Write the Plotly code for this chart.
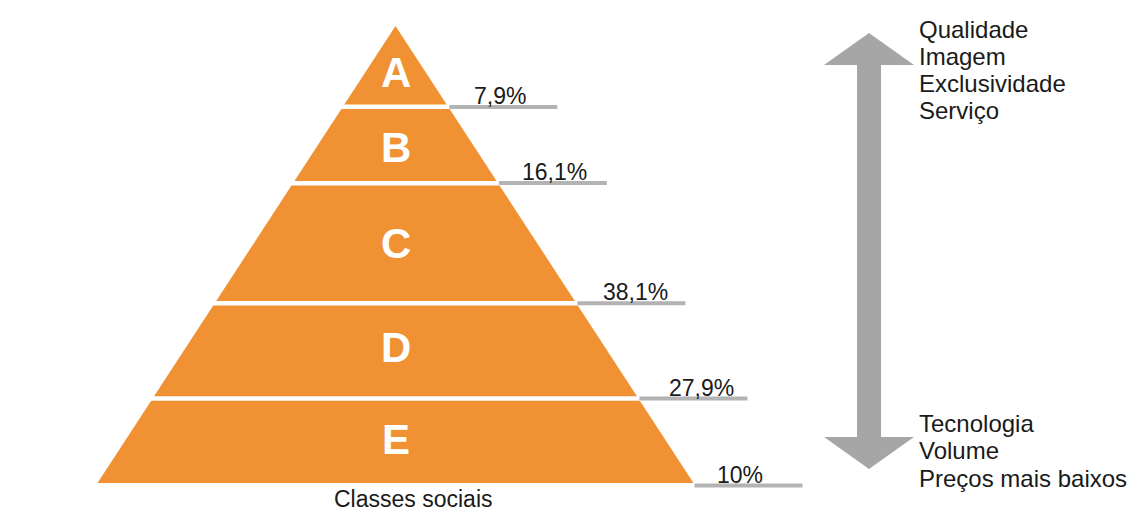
import plotly.graph_objects as go

# ---- data ----
classes = ["A", "B", "C", "D", "E"]
shares = [7.9, 16.1, 38.1, 27.9, 10]
top_attributes = ["Qualidade", "Imagem", "Exclusividade", "Serviço"]
bottom_attributes = ["Tecnologia", "Volume", "Preços mais baixos"]
axis_title = "Classes sociais"

# ---- layout geometry (pixel-like data coordinates) ----
W, H = 1135, 519
OFF = 8  # page body margin
apex_x, apex_y = 395.5, 26
base_y, base_half = 483, 298
band_tops = [26, 109, 185.5, 305.5, 400.7]
band_bottoms = [104.5, 181, 301, 396.3, 483]
gap_lines = [107, 183, 303.3, 398.5, 485.5]
letter_y = [72, 147, 243, 347, 439]
pct_xc = [500, 554, 635, 701, 740]
line_len = 108

ORANGE = "#F09133"
GRAY = "#B3B3B3"
ARROW = "#A6A6A6"
TEXT = "#1a1a1a"
FONT = "Liberation Sans, Arial, sans-serif"


def half_width(y):
    return (y - apex_y) / (base_y - apex_y) * base_half


def fmt(v):
    s = ("%g" % v).replace(".", ",")
    return s + "%"


fig = go.Figure()

# pyramid bands
for c, t, b in zip(classes, band_tops, band_bottoms):
    ht, hb = half_width(t), half_width(b)
    fig.add_trace(go.Scatter(
        x=[apex_x - ht, apex_x + ht, apex_x + hb, apex_x - hb, apex_x - ht],
        y=[t, t, b, b, t], fill="toself", fillcolor=ORANGE,
        line=dict(width=0, color=ORANGE), mode="lines", hoverinfo="skip", showlegend=False))

# gray leader lines
for yl in gap_lines:
    x0 = apex_x + half_width(min(yl, base_y)) + 1
    fig.add_trace(go.Scatter(x=[x0, x0 + line_len], y=[yl, yl], mode="lines",
                             line=dict(color=GRAY, width=4), hoverinfo="skip", showlegend=False))

annotations = []
for c, yl in zip(classes, letter_y):
    annotations.append(dict(x=apex_x, y=yl, text="<b>%s</b>" % c, showarrow=False,
                            font=dict(family=FONT, size=42, color="white"),
                            xanchor="center", yanchor="middle"))
for v, xc, yl in zip(shares, pct_xc, gap_lines):
    annotations.append(dict(x=xc, y=yl - 11, text=fmt(v), showarrow=False,
                            font=dict(family=FONT, size=23, color=TEXT),
                            xanchor="center", yanchor="middle"))

# double arrow
ax_c, shaft_hw, head_hw = 869, 12, 45
top_tip, top_base, bot_base, bot_tip = 33, 65, 437, 469
fig.add_trace(go.Scatter(
    x=[ax_c, ax_c + head_hw, ax_c + shaft_hw, ax_c + shaft_hw, ax_c + head_hw, ax_c,
       ax_c - head_hw, ax_c - shaft_hw, ax_c - shaft_hw, ax_c - head_hw, ax_c],
    y=[top_tip, top_base, top_base, bot_base, bot_base, bot_tip,
       bot_base, bot_base, top_base, top_base, top_tip],
    fill="toself", fillcolor=ARROW, line=dict(width=0, color=ARROW), mode="lines",
    hoverinfo="skip", showlegend=False))

for i, t in enumerate(top_attributes):
    annotations.append(dict(x=917, y=29 + 27.3 * i, text=t, showarrow=False,
                            font=dict(family=FONT, size=24, color=TEXT),
                            xanchor="left", yanchor="middle"))
for i, t in enumerate(bottom_attributes):
    annotations.append(dict(x=917, y=423 + 27.5 * i, text=t, showarrow=False,
                            font=dict(family=FONT, size=24, color=TEXT),
                            xanchor="left", yanchor="middle"))

annotations.append(dict(x=413, y=499, text=axis_title, showarrow=False,
                        font=dict(family=FONT, size=23, color=TEXT),
                        xanchor="center", yanchor="middle"))

fig.update_layout(
    width=W - OFF, height=H - OFF, margin=dict(l=0, r=0, t=0, b=0),
    paper_bgcolor="white", plot_bgcolor="white",
    xaxis=dict(range=[OFF, W], visible=False, fixedrange=True),
    yaxis=dict(range=[H, OFF], visible=False, fixedrange=True),
    annotations=annotations, showlegend=False,
)

fig.write_html("out.html")
